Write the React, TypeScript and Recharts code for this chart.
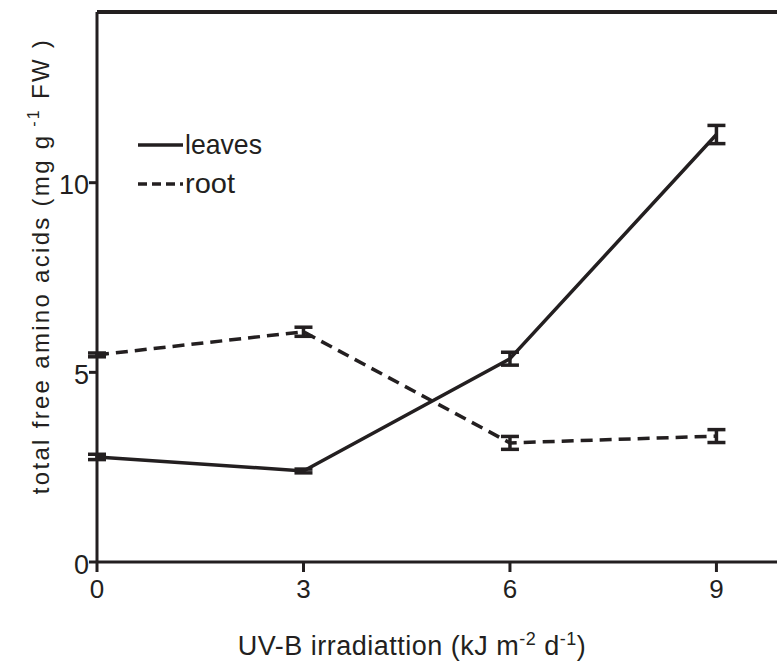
import React from 'react';
import { LineChart, Line, XAxis, YAxis, ErrorBar, ReferenceLine } from 'recharts';

// UV-B dose (kJ m-2 d-1)
const doses = [0, 3, 6, 9];
// total free amino acids (mg g-1 FW)
const leaves = [2.77, 2.4, 5.36, 11.27];
const leavesErr = [0.07, 0.05, 0.17, 0.24];
const root = [5.46, 6.07, 3.14, 3.32];
const rootErr = [0.05, 0.12, 0.17, 0.17];

const xTicks = [0, 3, 6, 9];
const yTicks = [0, 5, 10];

const ink = '#231f20';
const font = '"Liberation Sans", Arial, sans-serif';

const data = doses.map((d, i) => ({
  dose: d,
  leaves: leaves[i],
  leavesErr: leavesErr[i],
  root: root[i],
  rootErr: rootErr[i],
}));

// legend drawn by hand, top-left inside the plot (condensed text like the original)
function LegendBox() {
  return (
    <g>
      <line x1={138} y1={145} x2={183} y2={145} stroke={ink} strokeWidth={3.5} />
      <text x={185} y={154} fontSize={28} fontFamily={font} fill={ink} textLength={77} lengthAdjust="spacingAndGlyphs">leaves</text>
      <line x1={138} y1={184} x2={183} y2={184} stroke={ink} strokeWidth={3.5} strokeDasharray="9 5" />
      <text x={185} y={193} fontSize={28} fontFamily={font} fill={ink} textLength={50} lengthAdjust="spacingAndGlyphs">root</text>
    </g>
  );
}

function YLabel() {
  return (
    <text
      transform="translate(49,266) rotate(-90)"
      textAnchor="middle"
      fontSize={24}
      fontFamily={font}
      fill={ink}
      letterSpacing={2.3}
    >
      total free amino acids (mg g
      <tspan dy={-10} fontSize={16}> -1</tspan>
      <tspan dy={10}> FW )</tspan>
    </text>
  );
}

function XLabel() {
  return (
    <text x={412} y={655} textAnchor="middle" fontSize={27} fontFamily={font} fill={ink} letterSpacing={0.5}>
      UV-B irradiattion (kJ m
      <tspan dy={-10} fontSize={18}>-2</tspan>
      <tspan dy={10}> d</tspan>
      <tspan dy={-10} fontSize={18}>-1</tspan>
      <tspan dy={10}>)</tspan>
    </text>
  );
}

export default function App() {
  return (
    <div style={{ position: 'absolute', left: 0, top: 0, width: 777, height: 662, background: '#fff' }}>
      <LineChart width={777} height={662} data={data} margin={{ top: 12, right: 0, bottom: 0, left: 0 }}>
        <XAxis
          dataKey="dose"
          type="number"
          domain={[0, 9.88]}
          ticks={xTicks}
          allowDataOverflow
          axisLine={{ stroke: ink, strokeWidth: 3 }}
          tickLine={{ stroke: ink, strokeWidth: 3 }}
          tickSize={10}
          tick={{ fill: ink, fontSize: 26, fontFamily: font, dy: 6 }}
          height={100}
        />
        <YAxis
          type="number"
          domain={[0, 14.5]}
          ticks={yTicks}
          allowDataOverflow
          axisLine={{ stroke: ink, strokeWidth: 3 }}
          tickLine={{ stroke: ink, strokeWidth: 3 }}
          tickSize={8}
          tick={{ fill: ink, fontSize: 27, fontFamily: font, dy: 2 }}
          width={97}
          tickMargin={0}
        />
        <ReferenceLine y={14.5} stroke={ink} strokeWidth={4} />
        <Line
          dataKey="leaves"
          stroke={ink}
          strokeWidth={3.5}
          dot={false}
          isAnimationActive={false}
        >
          <ErrorBar dataKey="leavesErr" width={9} stroke={ink} strokeWidth={3.5} />
        </Line>
        <Line
          dataKey="root"
          stroke={ink}
          strokeWidth={3.5}
          strokeDasharray="12 7"
          dot={false}
          isAnimationActive={false}
        >
          <ErrorBar dataKey="rootErr" width={9} stroke={ink} strokeWidth={3.5} />
        </Line>
        <LegendBox />
        <YLabel />
        <XLabel />
      </LineChart>
    </div>
  );
}
